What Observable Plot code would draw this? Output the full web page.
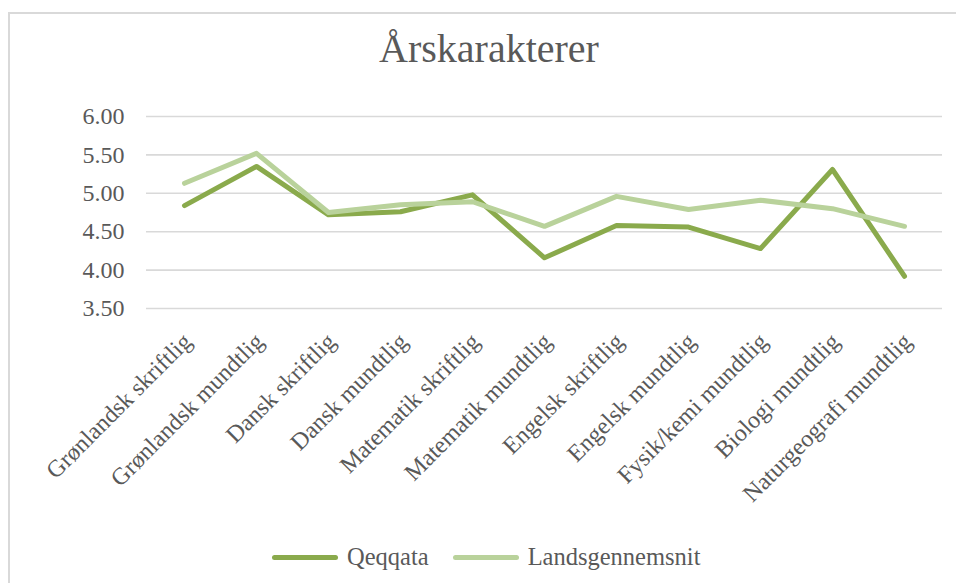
<!DOCTYPE html>
<html>
<head>
<meta charset="utf-8">
<script src="https://cdn.jsdelivr.net/npm/d3@7"></script>
<script src="https://cdn.jsdelivr.net/npm/@observablehq/plot@0.6"></script>
<style>
  html, body { margin: 0; padding: 0; background: #fff; }
  #wrap { position: relative; width: 956px; height: 583px; overflow: hidden; font-family: "Liberation Serif", serif; color: #595959; }
  #frame { position: absolute; left: 8px; top: 12px; width: 1000px; height: 700px; border-top: 2px solid #d9d9d9; border-left: 2px solid #d9d9d9; }
  #title { position: absolute; left: 22px; width: 934px; top: 22px; height: 54px; line-height: 54px; text-align: center; font-size: 40px; }
  #chart { position: absolute; left: 0; top: 90px; }
  #legend { position: absolute; left: 272px; top: 541px; height: 32px; display: flex; align-items: center; font-size: 24.5px; }
  .sw { width: 66px; height: 5px; border-radius: 3px; margin-right: 9px; }
</style>
</head>
<body>
<div id="wrap">
  <div id="frame"></div>
  <div id="title">Årskarakterer</div>
  <div id="chart"></div>
  <div id="legend"></div>
</div>
<script>
const subjects = [
  "Grønlandsk skriftlig", "Grønlandsk mundtlig", "Dansk skriftlig", "Dansk mundtlig",
  "Matematik skriftlig", "Matematik mundtlig", "Engelsk skriftlig", "Engelsk mundtlig",
  "Fysik/kemi mundtlig", "Biologi mundtlig", "Naturgeografi mundtlig"
];
const qeqqata = [4.84, 5.35, 4.72, 4.76, 4.98, 4.16, 4.58, 4.56, 4.28, 5.31, 3.92];
const landsgennemsnit = [5.13, 5.52, 4.75, 4.85, 4.89, 4.57, 4.96, 4.79, 4.91, 4.80, 4.57];
const seriesNames = ["Qeqqata", "Landsgennemsnit"];
const seriesColors = ["#8aaa4c", "#b9d29b"];
const yTicks = [3.5, 4.0, 4.5, 5.0, 5.5, 6.0];

const data = [];
subjects.forEach((s, i) => data.push({subject: s, series: seriesNames[0], value: qeqqata[i]}));
subjects.forEach((s, i) => data.push({subject: s, series: seriesNames[1], value: landsgennemsnit[i]}));

const chart = Plot.plot({
  width: 956,
  height: 438,
  marginLeft: 146,
  marginRight: 14,
  marginTop: 26,
  marginBottom: 220,
  style: {fontFamily: "Liberation Serif, serif", color: "#595959", background: "transparent", overflow: "visible"},
  x: {type: "point", domain: subjects, padding: 0.5},
  y: {domain: [3.5, 6.0]},
  color: {domain: seriesNames, range: seriesColors},
  marks: [
    Plot.gridY(yTicks, {stroke: "#d9d9d9", strokeOpacity: 1, strokeWidth: 1.6}),
    Plot.axisY(yTicks, {tickSize: 0, tickPadding: 22, tickFormat: d3.format(".2f"), fontSize: 24, fill: "#595959", label: null}),
    Plot.axisX({tickSize: 0, tickRotate: -45, tickPadding: 0, dy: 29, dx: 3, fontSize: 24, fill: "#595959", label: null}),
    Plot.line(data, {x: "subject", y: "value", z: "series", stroke: "series", strokeWidth: 5, strokeLinecap: "round", strokeLinejoin: "round"})
  ]
});
document.getElementById("chart").appendChild(chart);

const legend = document.getElementById("legend");
seriesNames.forEach((name, i) => {
  const sw = document.createElement("div");
  sw.className = "sw";
  sw.style.background = seriesColors[i];
  legend.appendChild(sw);
  const t = document.createElement("span");
  t.textContent = name;
  t.style.marginRight = i === 0 ? "24px" : "0";
  legend.appendChild(t);
});
</script>
</body>
</html>
